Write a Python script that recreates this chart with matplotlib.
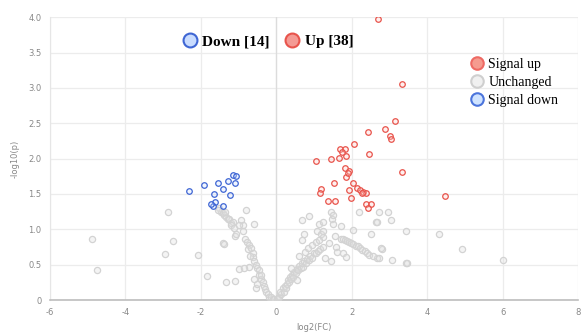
import matplotlib
matplotlib.use("Agg")
import matplotlib.pyplot as plt
from matplotlib.lines import Line2D

# significant down (14)
down_x = [-2.32, -1.93, -1.54, -1.28, -1.16, -1.06, -1.09, -1.40, -1.66, -1.23,
          -1.62, -1.69, -1.42, -1.72]
down_y = [1.54, 1.62, 1.66, 1.69, 1.77, 1.76, 1.65, 1.57, 1.50, 1.48,
          1.38, 1.33, 1.33, 1.36]

# significant up (38)
up_x = [2.70, 3.33, 3.15, 2.88, 2.43, 3.01, 3.05, 2.05, 1.68, 1.83,
        2.46, 1.85, 1.04, 1.44, 1.65, 3.32, 1.82, 1.94, 1.86, 1.53,
        1.19, 1.16, 1.93, 2.15, 2.23, 2.30, 2.38, 1.99, 1.37, 1.55,
        2.38, 2.52, 2.42, 4.48, 2.02, 1.89, 2.27, 1.74]
up_y = [3.98, 3.05, 2.53, 2.42, 2.37, 2.32, 2.27, 2.20, 2.14, 2.13,
        2.06, 2.04, 1.96, 2.00, 2.01, 1.81, 1.86, 1.82, 1.74, 1.65,
        1.57, 1.51, 1.56, 1.58, 1.55, 1.53, 1.51, 1.44, 1.40, 1.40,
        1.36, 1.36, 1.30, 1.47, 1.65, 1.80, 1.51, 2.10]

# unchanged
gray_pts = [
    (-4.89, 0.86), (-4.75, 0.43), (-2.88, 1.24), (-2.73, 0.83), (-2.95, 0.65),
    (-2.08, 0.63), (-1.84, 0.34), (-1.33, 0.26), (-1.09, 0.27), (-0.98, 0.44),
    (-1.40, 0.80), (-1.38, 0.79), (-0.80, 1.27), (-1.09, 0.91), (-1.07, 0.93),
    (-1.51, 1.30), (-1.47, 1.25), (-1.42, 1.23), (-1.38, 1.20), (-1.33, 1.18),
    (-1.29, 1.15), (-1.25, 1.15), (-1.20, 1.09), (-1.16, 1.11), (-1.20, 1.06),
    (-1.13, 1.02), (-0.94, 1.13), (-0.87, 1.06), (-0.98, 1.06), (-0.89, 0.97),
    (-0.58, 1.07), (-1.55, 1.28), (-1.35, 1.25),
    (-0.82, 0.86), (-0.78, 0.82), (-0.72, 0.78), (-0.75, 0.72), (-0.67, 0.73),
    (-0.63, 0.66), (-0.63, 0.61), (-0.70, 0.62), (-0.58, 0.55), (-0.55, 0.50),
    (-0.72, 0.47), (-0.50, 0.45), (-0.45, 0.42), (-0.47, 0.36), (-0.41, 0.30),
    (-0.36, 0.26), (-0.54, 0.17), (-0.50, 0.22), (-0.33, 0.20), (-0.30, 0.15),
    (-0.27, 0.12), (-0.23, 0.08), (-0.20, 0.05), (-0.15, 0.04), (-0.10, 0.02),
    (-0.06, 0.01), (-0.60, 0.30), (-0.40, 0.36), (-0.85, 0.45),
    (0.02, 0.01), (0.05, 0.03), (0.08, 0.05), (0.12, 0.08), (0.10, 0.12),
    (0.17, 0.17), (0.20, 0.12), (0.22, 0.20), (0.25, 0.17), (0.28, 0.22),
    (0.30, 0.28), (0.34, 0.26), (0.36, 0.32), (0.40, 0.30), (0.42, 0.36),
    (0.45, 0.33), (0.48, 0.40), (0.52, 0.38), (0.55, 0.44), (0.58, 0.42),
    (0.60, 0.48), (0.65, 0.45), (0.70, 0.47), (0.68, 0.52), (0.74, 0.55),
    (0.78, 0.52), (0.82, 0.58), (0.87, 0.57), (0.90, 0.62), (0.95, 0.60),
    (1.00, 0.66), (1.05, 0.66), (1.10, 0.70), (1.15, 0.72), (1.23, 0.75),
    (0.60, 0.62), (0.75, 0.68), (0.85, 0.74), (0.95, 0.78), (1.05, 0.82),
    (0.55, 0.28), (0.40, 0.45), (0.74, 0.94), (0.67, 0.85), (1.09, 0.97),
    (1.18, 0.94), (1.23, 0.89), (1.14, 0.85),
    (0.67, 1.13), (0.87, 1.19), (1.14, 1.08), (1.23, 1.11), (1.45, 1.25),
    (1.47, 1.15), (1.49, 1.08), (1.49, 1.20), (1.71, 1.05), (1.23, 0.97),
    (2.20, 1.25), (2.02, 0.99), (2.64, 1.11), (2.67, 1.11), (2.51, 0.94),
    (2.73, 1.25), (2.95, 1.25), (3.05, 1.13), (3.43, 0.98), (4.30, 0.94),
    (4.92, 0.72), (6.01, 0.57), (2.80, 0.72), (2.77, 0.73), (3.06, 0.56),
    (3.43, 0.52), (3.46, 0.52), (2.68, 0.60), (2.71, 0.60),
    (1.71, 0.87), (1.76, 0.86), (1.82, 0.85), (1.88, 0.84), (1.93, 0.82),
    (1.98, 0.81), (2.04, 0.79), (2.10, 0.77), (2.16, 0.76), (2.22, 0.73),
    (2.28, 0.71), (2.34, 0.69), (2.40, 0.67), (2.46, 0.64), (2.55, 0.62),
    (1.58, 0.75), (1.62, 0.68), (1.76, 0.66), (1.85, 0.61), (1.40, 0.80),
    (1.55, 0.90), (1.30, 0.60), (1.45, 0.55),
]
gray_x = [p[0] for p in gray_pts]
gray_y = [p[1] for p in gray_pts]

x_ticks = [-6, -4, -2, 0, 2, 4, 6, 8]
y_ticks = [0, 0.5, 1.0, 1.5, 2.0, 2.5, 3.0, 3.5, 4.0]
y_labels = ["0", "0.5", "1.0", "1.5", "2.0", "2.5", "3.0", "3.5", "4.0"]

red_edge = "#e8544c"
blue_edge = "#3f66d4"
gray_edge = "#d3d3d3"

fig = plt.figure(figsize=(5.81, 3.36), dpi=100)
ax = fig.add_axes([0.086, 0.107, 0.909, 0.842])

ax.scatter(gray_x, gray_y, s=20, facecolor=(0.88, 0.88, 0.88, 0.35),
           edgecolor=gray_edge, linewidth=0.9, zorder=3)
ax.scatter(up_x, up_y, s=16, facecolor=(1.0, 0.8, 0.78, 0.3),
           edgecolor=red_edge, linewidth=0.9, zorder=4)
ax.scatter(down_x, down_y, s=16, facecolor=(0.8, 0.87, 1.0, 0.3),
           edgecolor=blue_edge, linewidth=0.9, zorder=4)

ax.set_xlim(-6, 8)
ax.set_ylim(0, 4)
ax.set_xticks(x_ticks)
ax.set_xticklabels([str(t) for t in x_ticks])
ax.set_yticks(y_ticks)
ax.set_yticklabels(y_labels)
ax.tick_params(length=0, labelsize=6, colors="#888888", pad=6)
ax.grid(True, color="#ececec", linewidth=0.9, zorder=0)
ax.set_axisbelow(True)
for side in ["top", "right"]:
    ax.spines[side].set_visible(False)
ax.spines["left"].set_color("#e6e6e6")
ax.spines["bottom"].set_color("#bdbdbd")
ax.spines["bottom"].set_linewidth(1.2)
ax.axvline(0, color="#dcdcdc", linewidth=0.9, zorder=1)

ax.set_xlabel("log2(FC)", fontsize=6, color="#888888", labelpad=4)
ax.set_ylabel("-log10(p)", fontsize=6, color="#888888", labelpad=6)

top_handles = [
    Line2D([], [], marker="o", linestyle="", markersize=10,
           markerfacecolor="#c9dcff", markeredgecolor=blue_edge,
           markeredgewidth=1.5, label="Down [14]"),
    Line2D([], [], marker="o", linestyle="", markersize=10,
           markerfacecolor="#f49a94", markeredgecolor=red_edge,
           markeredgewidth=1.5, label="Up [38]"),
]
leg1 = ax.legend(handles=top_handles, loc="center", bbox_to_anchor=(0.405, 0.915),
                 ncol=2, frameon=False, handletextpad=-0.2, columnspacing=0.5,
                 prop={"family": "Liberation Serif", "weight": "bold", "size": 11})
ax.add_artist(leg1)

side_handles = [
    Line2D([], [], marker="o", linestyle="", markersize=9,
           markerfacecolor="#f59b8f", markeredgecolor="#ee6a64",
           markeredgewidth=1.5, label="Signal up"),
    Line2D([], [], marker="o", linestyle="", markersize=9,
           markerfacecolor="#f0f0f0", markeredgecolor="#cfcfcf",
           markeredgewidth=1.5, label="Unchanged"),
    Line2D([], [], marker="o", linestyle="", markersize=9,
           markerfacecolor="#cfe3ff", markeredgecolor="#4b74dc",
           markeredgewidth=1.5, label="Signal down"),
]
ax.legend(handles=side_handles, loc="center", bbox_to_anchor=(0.872, 0.77),
          frameon=False, handletextpad=-0.15, labelspacing=0.35,
          prop={"family": "Liberation Serif", "size": 10})

fig.savefig("out.png", dpi=100)
